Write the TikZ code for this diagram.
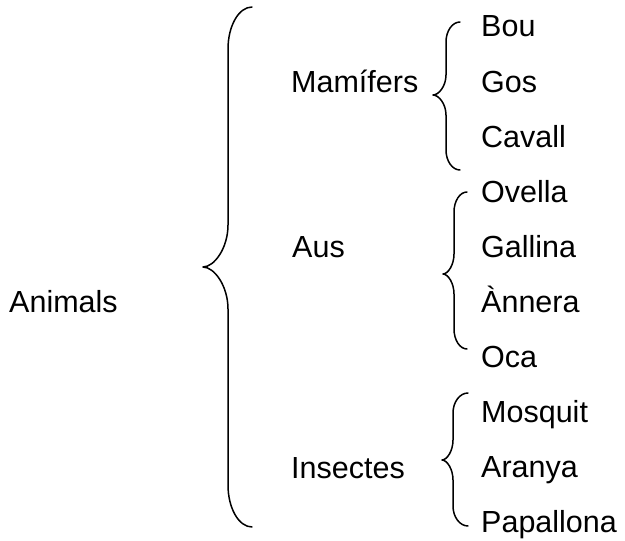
\documentclass[tikz,border=0pt]{standalone}
\usepackage{fontspec}
\setmainfont{Liberation Sans}
% #1 right x, #2 spine x, #3 tip x, #4 top y, #5 tip y, #6 bottom y, #7 curve height
\newcommand\drawbrace[7]{%
  \draw[bracestyle] (#1,#4) .. controls (#2+0.45*#1-0.45*#2,#4) and (#2,#4+0.45*#7) .. (#2,#4+#7)
    -- (#2,#5-#7) .. controls (#2,#5-0.45*#7) and (#3+0.45*#2-0.45*#3,#5) .. (#3,#5)
    .. controls (#3+0.45*#2-0.45*#3,#5) and (#2,#5+0.45*#7) .. (#2,#5+#7)
    -- (#2,#6-#7) .. controls (#2,#6-0.45*#7) and (#2+0.45*#1-0.45*#2,#6) .. (#1,#6);}
\begin{document}
\begin{tikzpicture}[x=1pt,y=-1pt,
  lbl/.style={anchor=base west, inner sep=0pt, font=\fontsize{30.5}{36}\selectfont},
  bracestyle/.style={line width=1.5pt, line cap=round, line join=round}]
\useasboundingbox (0,0) rectangle (625,541);
% labels
\node[lbl] (animals) at (9,312) {Animals};
\node[lbl] (mam) at (291,92) {Mamífers};
\node[lbl] (aus) at (292,257) {Aus};
\node[lbl] (ins) at (291,478) {Insectes};
\node[lbl] (bou) at (481,36) {Bou};
\node[lbl] (gos) at (481,92) {Gos};
\node[lbl] (cav) at (481,147) {Cavall};
\node[lbl] (ove) at (481,202) {Ovella};
\node[lbl] (gal) at (481,257) {Gallina};
\node[lbl] (ann) at (481,312) {Ànnera};
\node[lbl] (oca) at (481,367) {Oca};
\node[lbl] (mos) at (481,422) {Mosquit};
\node[lbl] (ara) at (481,477) {Aranya};
\node[lbl] (pap) at (481,532) {Papallona};
% braces
\drawbrace{252}{228}{203}{7}{267}{527}{42}
\drawbrace{460}{446}{433}{22}{95}{170}{20}
\drawbrace{467}{454}{443}{192}{274}{349}{20}
\drawbrace{468}{453}{442}{393}{460}{526}{20}
\end{tikzpicture}
\end{document}
